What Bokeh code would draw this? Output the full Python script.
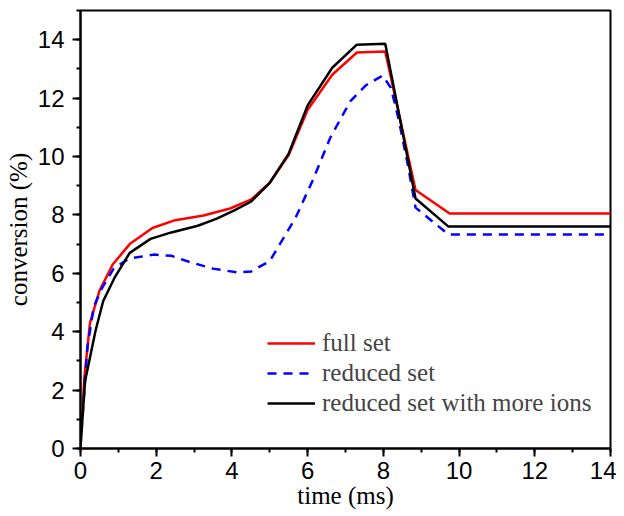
from bokeh.plotting import figure
from bokeh.models import SingleIntervalTicker, Legend, LegendItem, Range1d
from bokeh.embed import file_html
from bokeh.resources import INLINE

# data (time in ms, conversion in %)
full_x = [0, 0.1, 0.25, 0.5, 0.85, 1.3, 1.9, 2.5, 3.25, 3.95, 4.5, 5.0, 5.5, 6.0, 6.65, 7.3, 8.05, 8.85, 9.75, 14]
full_y = [0.1, 2.4, 4.3, 5.4, 6.3, 7.0, 7.55, 7.82, 7.98, 8.22, 8.52, 9.1, 10.05, 11.6, 12.8, 13.56, 13.6, 8.85, 8.05, 8.05]

red_x = [0, 0.09, 0.18, 0.35, 0.57, 0.87, 1.27, 1.93, 2.4, 2.9, 3.5, 4.15, 4.5, 5.0, 5.68, 6.13, 6.6, 7.13, 7.53, 7.98, 8.2, 8.4, 8.64, 8.85, 9.72, 14]
red_y = [0.03, 1.75, 3.45, 4.85, 5.5, 6.15, 6.5, 6.64, 6.6, 6.38, 6.16, 6.03, 6.06, 6.42, 7.9, 9.17, 10.65, 11.9, 12.43, 12.77, 12.35, 11.3, 9.76, 8.25, 7.33, 7.33]

ions_x = [0, 0.12, 0.4, 0.6, 0.9, 1.3, 1.85, 2.4, 3.1, 3.6, 4.05, 4.5, 5.0, 5.5, 6.0, 6.65, 7.3, 8.05, 8.85, 9.72, 14]
ions_y = [0.1, 2.3, 4.05, 5.05, 5.85, 6.7, 7.18, 7.4, 7.63, 7.87, 8.15, 8.45, 9.1, 10.1, 11.75, 13.04, 13.83, 13.86, 8.56, 7.6, 7.6]

labels = ["full set", "reduced set", "reduced set with more ions"]
x_ticks_interval = 2
y_ticks_interval = 2

p = figure(width=616, height=516, output_backend="svg", toolbar_location=None,
           x_range=Range1d(0, 14), y_range=Range1d(0, 15),
           min_border_left=80, min_border_right=6, min_border_top=10, min_border_bottom=68)
p.xgrid.visible = False
p.ygrid.visible = False
p.outline_line_color = "black"
p.outline_line_width = 2
p.background_fill_color = "white"
p.border_fill_color = "white"

for ax, interval in ((p.xaxis[0], x_ticks_interval), (p.yaxis[0], y_ticks_interval)):
    ax.ticker = SingleIntervalTicker(interval=interval, num_minor_ticks=2)
    ax.axis_line_width = 2
    ax.major_tick_line_width = 2
    ax.minor_tick_line_width = 2
    ax.major_tick_in = 0
    ax.major_tick_out = 8
    ax.minor_tick_in = 0
    ax.minor_tick_out = 4
    ax.major_label_text_font = "Liberation Sans"
    ax.major_label_text_font_size = "24px"
    ax.major_label_text_color = "black"
    ax.axis_label_text_font = "Liberation Serif"
    ax.axis_label_text_font_size = "25px"
    ax.axis_label_text_font_style = "normal"
    ax.axis_label_text_color = "black"

p.xaxis.axis_label = "time (ms)"
p.yaxis.axis_label = "conversion (%)"
p.xaxis.major_label_standoff = 5
p.yaxis.major_label_standoff = 8
p.xaxis.axis_label_standoff = 0
p.yaxis.axis_label_standoff = 3

r1 = p.line(full_x, full_y, line_color="#ff0000", line_width=2.5)
r2 = p.line(red_x, red_y, line_color="#0000ff", line_width=2.5, line_dash="9 7")
r3 = p.line(ions_x, ions_y, line_color="black", line_width=2.5)

legend = Legend(items=[LegendItem(label=labels[0], renderers=[r1]),
                       LegendItem(label=labels[1], renderers=[r2]),
                       LegendItem(label=labels[2], renderers=[r3])],
                location=(187, 30))
legend.border_line_color = None
legend.background_fill_alpha = 0
legend.padding = 0
legend.margin = 0
legend.spacing = 0
legend.glyph_width = 48
legend.glyph_height = 30
legend.label_height = 30
legend.label_standoff = 7
legend.label_text_font = "Liberation Serif"
legend.label_text_font_size = "25px"
p.add_layout(legend, "center")

open("out.html", "w").write(file_html(p, INLINE))
